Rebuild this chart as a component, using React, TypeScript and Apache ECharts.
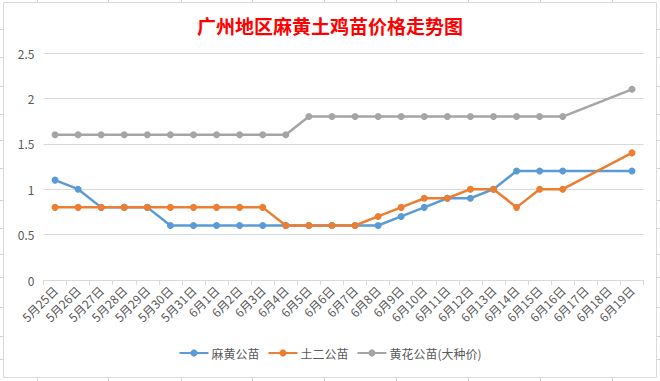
import React, { useEffect, useRef } from "react";
import * as echarts from "echarts";

const title = "广州地区麻黄土鸡苗价格走势图";
const categories = [
  "5月25日", "5月26日", "5月27日", "5月28日", "5月29日", "5月30日", "5月31日",
  "6月1日", "6月2日", "6月3日", "6月4日", "6月5日", "6月6日", "6月7日", "6月8日",
  "6月9日", "6月10日", "6月11日", "6月12日", "6月13日", "6月14日", "6月15日",
  "6月16日", "6月17日", "6月18日", "6月19日",
];
const mahuang = [1.1, 1.0, 0.8, 0.8, 0.8, 0.6, 0.6, 0.6, 0.6, 0.6, 0.6, 0.6, 0.6, 0.6, 0.6, 0.7, 0.8, 0.9, 0.9, 1.0, 1.2, 1.2, 1.2, null, null, 1.2];
const tuer = [0.8, 0.8, 0.8, 0.8, 0.8, 0.8, 0.8, 0.8, 0.8, 0.8, 0.6, 0.6, 0.6, 0.6, 0.7, 0.8, 0.9, 0.9, 1.0, 1.0, 0.8, 1.0, 1.0, null, null, 1.4];
const huanghua = [1.6, 1.6, 1.6, 1.6, 1.6, 1.6, 1.6, 1.6, 1.6, 1.6, 1.6, 1.8, 1.8, 1.8, 1.8, 1.8, 1.8, 1.8, 1.8, 1.8, 1.8, 1.8, 1.8, null, null, 2.1];
const seriesNames = ["麻黄公苗", "土二公苗", "黄花公苗(大种价)"];
const colors = ["#5B9BD5", "#ED7D31", "#A5A5A5"];

// Spreadsheet cell grid visible around the chart box
const sheetCols = [37, 108, 181, 252, 324, 396, 468, 540, 612];
const sheetRows = [29, 57, 86, 114, 140, 168, 200, 228, 254, 277, 307, 336, 359];

export default function App() {
  const ref = useRef<HTMLDivElement>(null);
  useEffect(() => {
    if (!ref.current) return;
    const chart = echarts.init(ref.current, null, { renderer: "svg" });
    const font = "'Noto Sans CJK SC', 'Microsoft YaHei', sans-serif";
    const graphics: any[] = [];
    sheetCols.forEach((x) => {
      graphics.push({ type: "line", z: -5, shape: { x1: x + 0.5, y1: 0, x2: x + 0.5, y2: 381 }, style: { stroke: "#d4d4d4", lineWidth: 1 } });
    });
    sheetRows.forEach((y) => {
      graphics.push({ type: "line", z: -5, shape: { x1: 0, y1: y + 0.5, x2: 660, y2: y + 0.5 }, style: { stroke: "#d4d4d4", lineWidth: 1 } });
    });
    graphics.push({
      type: "rect", z: -4,
      shape: { x: 3.5, y: 2.5, width: 653, height: 375 },
      style: { fill: "#ffffff", stroke: "#d9d9d9", lineWidth: 1 },
    });
    const seriesData = [mahuang, tuer, huanghua];
    chart.setOption({
      animation: false,
      backgroundColor: "#ffffff",
      color: colors,
      graphic: graphics,
      title: {
        text: title,
        left: "center",
        top: 11,
        textStyle: { color: "#ff0000", fontSize: 19, fontWeight: "bold", fontFamily: font },
      },
      grid: { left: 43.5, right: 16.5, top: 53, bottom: 101, containLabel: false },
      legend: {
        bottom: 17,
        left: "center",
        itemWidth: 29,
        itemHeight: 9,
        itemGap: 8,
        textStyle: { color: "#595959", fontSize: 12, fontFamily: font, padding: [0, 0, 0, -2] },
        data: seriesNames,
      },
      xAxis: {
        type: "category",
        data: categories,
        boundaryGap: true,
        axisLine: { lineStyle: { color: "#d9d9d9", width: 1 } },
        axisTick: { show: true, length: 5, lineStyle: { color: "#d9d9d9" }, interval: 0 },
        axisLabel: { interval: 0, rotate: 45, margin: 8, color: "#595959", fontSize: 12, fontFamily: font },
      },
      yAxis: {
        type: "value",
        min: 0,
        max: 2.5,
        interval: 0.5,
        axisLine: { show: false },
        axisTick: { show: false },
        axisLabel: { color: "#595959", fontSize: 12, margin: 9, fontFamily: font },
        splitLine: { lineStyle: { color: "#d9d9d9", width: 1 } },
      },
      series: seriesNames.map((name, i) => ({
        name,
        type: "line",
        data: seriesData[i],
        connectNulls: true,
        symbol: "circle",
        symbolSize: 7,
        lineStyle: { width: 2.5, color: colors[i] },
        itemStyle: { color: colors[i] },
      })),
    });
    return () => chart.dispose();
  }, []);
  return <div ref={ref} style={{ position: "fixed", left: 0, top: 0, width: 660, height: 381 }} />;
}
